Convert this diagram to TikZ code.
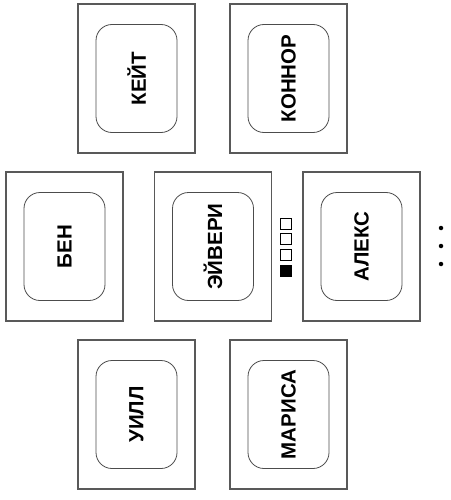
\documentclass[tikz,border=0pt]{standalone}
\usepackage{fontspec}
\setsansfont{Liberation Sans}
\usetikzlibrary{positioning}
\tikzset{seat/.style={draw=black!65, line width=1.2pt, minimum width=117pt, minimum height=149pt, inner sep=0pt}}
\tikzset{nametag/.style={draw=black!70, line width=0.8pt, rounded corners=16pt, rotate=90, minimum width=108pt, minimum height=81pt, inner sep=0pt, font=\sffamily\bfseries\fontsize{20.5}{20.5}\selectfont}}
\tikzset{pip/.style={draw, line width=0.6pt, minimum size=11pt, inner sep=0pt}}
\tikzset{vdot/.style={circle, fill, minimum size=4.5pt, inner sep=0pt}}
\newcommand\seatcard[3]{
	\node[seat] (#1) at (#2) {};
	\node[nametag] (#1-tag) at (#1.center) {#3};
	}

\begin{document}
\begin{tikzpicture}[x=1pt, y=-1pt]
	\useasboundingbox (0,0) rectangle (450,500);

	\seatcard{kate}{136.5,78.5}{КЕЙТ}
	\seatcard{connor}{288.5,78.5}{КОННОР}
	\seatcard{ben}{64.5,246.5}{БЕН}
	\seatcard{avery}{213,246.5}{ЭЙВЕРИ}
	\seatcard{alex}{361.5,246.5}{АЛЕКС}
	\seatcard{will}{136.5,414.5}{УИЛЛ}
	\seatcard{marisa}{288.5,414.5}{МАРИСА}

	% level marks
	\foreach \i/\y in {1/223.5, 2/239, 3/254.5}
		\node[pip] (pip\i) at (286,\y) {};
	\node[pip, fill] (pip4) at (286,270.5) {};

	\foreach \i/\y in {1/228, 2/246, 3/264}
		\node[vdot] (dot\i) at (441,\y) {};
\end{tikzpicture}
\end{document}
